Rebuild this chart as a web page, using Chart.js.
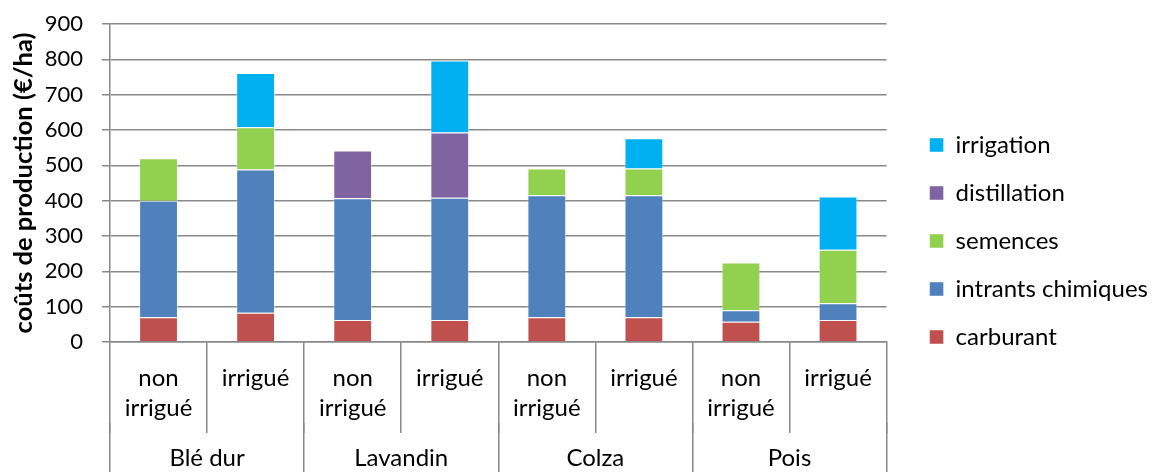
<!DOCTYPE html>
<html>
<head>
<meta charset="utf-8">
<script src="https://cdn.jsdelivr.net/npm/chart.js@4/dist/chart.umd.min.js"></script>
<style>
  html, body { margin: 0; padding: 0; background: #fff; }
  #wrap { width: 1155px; height: 472px; }
</style>
</head>
<body>
<div id="wrap"><canvas id="costChart"></canvas></div>
<script>
// sub categories (one bar each) and their groups
const subLabels = [['non', 'irrigué'], 'irrigué', ['non', 'irrigué'], 'irrigué',
                   ['non', 'irrigué'], 'irrigué', ['non', 'irrigué'], 'irrigué'];
const groups = ['Blé dur', 'Lavandin', 'Colza', 'Pois'];

// coûts de production (€/ha)
const carburant    = [70, 83, 62, 62, 70, 70, 57, 62];
const intrants     = [330, 405, 345, 346, 345, 345, 33, 48];
const semences     = [120, 120, null, null, 76, 76, 135, 151];
const distillation = [null, null, 135, 185, null, null, null, null];
const irrigation   = [null, 153, null, 204, null, 86, null, 151];

const yTicks = [0, 100, 200, 300, 400, 500, 600, 700, 800, 900];

const gridColor = '#888888';
Chart.defaults.font.family = 'Lato';
Chart.defaults.color = '#000';

function series(label, data, color) {
  return {
    label: label,
    data: data,
    backgroundColor: color,
    borderColor: 'rgba(255,255,255,0.45)',
    borderWidth: 1,
    xAxisID: 'x',
    barPercentage: 0.4,
    categoryPercentage: 1.0
  };
}

new Chart(document.getElementById('costChart'), {
  type: 'bar',
  data: {
    labels: subLabels,
    datasets: [
      series('carburant', carburant, '#C0504D'),
      series('intrants chimiques', intrants, '#4F81BD'),
      series('semences', semences, '#92D050'),
      series('distillation', distillation, '#8064A2'),
      series('irrigation', irrigation, '#00B0F0')
    ]
  },
  options: {
    responsive: true,
    maintainAspectRatio: false,
    animation: false,
    layout: { padding: { top: 10, left: 0, right: -3, bottom: 0 } },
    plugins: {
      tooltip: { enabled: false },
      legend: {
        position: 'right',
        reverse: true,
        maxWidth: 320,
        labels: {
          boxWidth: 14,
          boxHeight: 14,
          padding: 24,
          font: { size: 24 }
        }
      }
    },
    scales: {
      x: {
        stacked: true,
        offset: true,
        grid: { offset: true, drawOnChartArea: false, tickLength: 91, color: gridColor, lineWidth: 1.5 },
        border: { color: gridColor, width: 1.5 },
        ticks: { padding: -70, maxRotation: 0, autoSkip: false, font: { size: 24, lineHeight: 1.25 } },
        afterFit: s => { s.height = 81; }
      },
      x2: {
        type: 'category',
        labels: groups,
        position: 'bottom',
        offset: true,
        grid: { offset: true, drawOnChartArea: false, tickLength: 49, color: gridColor, lineWidth: 1.5 },
        border: { display: false },
        ticks: { padding: -29, maxRotation: 0, font: { size: 24, lineHeight: 1.25 } },
        afterFit: s => { s.height = 49; }
      },
      y: {
        stacked: true,
        min: 0,
        max: 900,
        afterBuildTicks: s => { s.ticks = yTicks.map(v => ({ value: v })); },
        grid: { color: gridColor, lineWidth: 1.5, tickLength: 8 },
        border: { color: gridColor, width: 1.5 },
        ticks: { padding: 19, font: { size: 22 } },
        title: {
          display: true,
          text: 'coûts de production (€/ha)',
          font: { size: 25.5, weight: 'bold' },
          padding: { top: 8, bottom: 0 }
        },
        afterFit: s => { s.width = 110; s.paddingTop = 24; s.paddingBottom = 0; }
      },
      gap: {
        type: 'linear',
        position: 'right',
        display: true,
        grid: { display: false },
        border: { display: false },
        ticks: { display: false },
        afterFit: s => { s.width = 19; }
      }
    }
  }
});
</script>
</body>
</html>
